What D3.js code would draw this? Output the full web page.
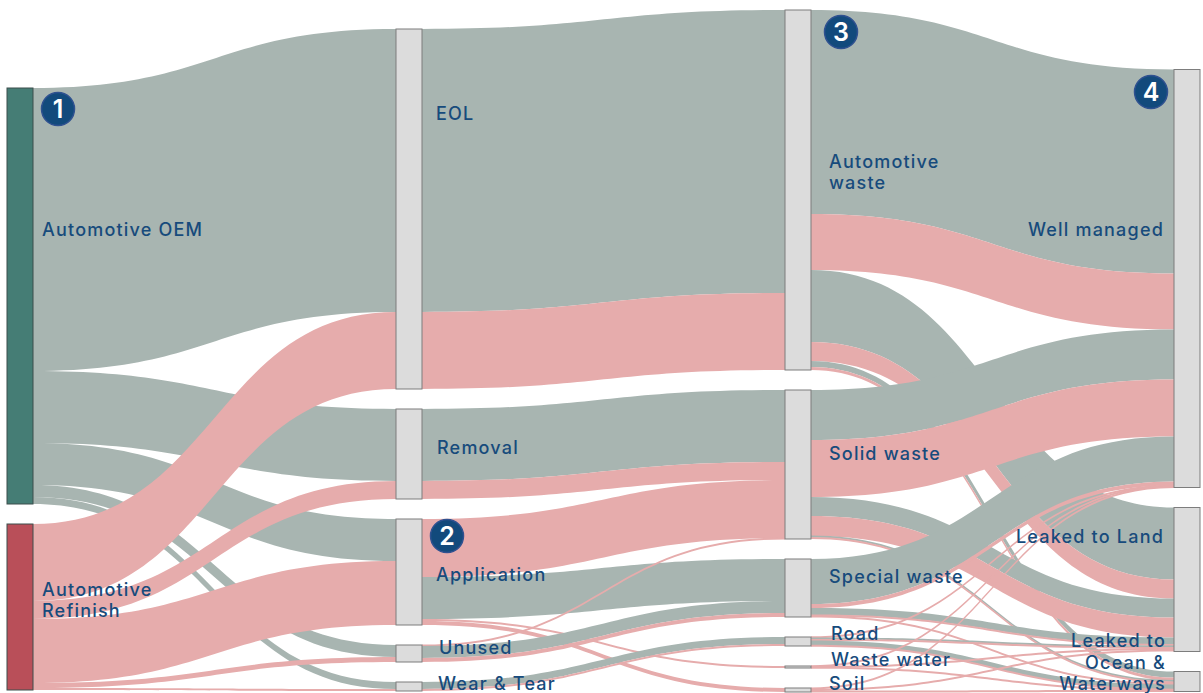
<!DOCTYPE html>
<html>
<head>
<meta charset="utf-8">
<script src="https://cdn.jsdelivr.net/npm/d3@7"></script>
<style>
  html, body { margin: 0; padding: 0; background: #fff; }
  svg { display: block; }
</style>
</head>
<body>
<div id="container"></div>
<script>
let w = 1203;
let h = 693;

// stages, top to bottom
let stage1 = ["Automotive OEM", "Automotive Refinish"];
let stage2 = ["EOL", "Removal", "Application", "Unused", "Wear & Tear"];
let stage3 = ["Automotive waste", "Solid waste", "Special waste", "Road", "Waste water", "Soil"];
let stage4 = ["Well managed", "Leaked to Land", "Leaked to Ocean & Waterways"];
let stages = [stage1, stage2, stage3, stage4];

// [source, target, value, series]
let flows12 = [
  ["Automotive OEM", "EOL", 283, "oem"],
  ["Automotive OEM", "Removal", 72, "oem"],
  ["Automotive OEM", "Application", 42, "oem"],
  ["Automotive OEM", "Unused", 12, "oem"],
  ["Automotive OEM", "Wear & Tear", 7, "oem"],
  ["Automotive Refinish", "EOL", 77, "refinish"],
  ["Automotive Refinish", "Removal", 18, "refinish"],
  ["Automotive Refinish", "Application", 64, "refinish"],
  ["Automotive Refinish", "Unused", 5, "refinish"],
  ["Automotive Refinish", "Wear & Tear", 2, "refinish"]
];
let flows23 = [
  ["EOL", "Automotive waste", 283, "oem"],
  ["EOL", "Automotive waste", 77, "refinish"],
  ["Removal", "Solid waste", 72, "oem"],
  ["Removal", "Solid waste", 18, "refinish"],
  ["Application", "Solid waste", 58, "refinish"],
  ["Application", "Special waste", 42, "oem"],
  ["Application", "Waste water", 2, "refinish"],
  ["Application", "Soil", 4, "refinish"],
  ["Unused", "Solid waste", 1, "refinish"],
  ["Unused", "Special waste", 12, "oem"],
  ["Unused", "Special waste", 4, "refinish"],
  ["Wear & Tear", "Road", 7, "oem"],
  ["Wear & Tear", "Road", 2, "refinish"]
];
let flows34 = [
  ["Automotive waste", "Well managed", 204, "oem"],
  ["Automotive waste", "Well managed", 56, "refinish"],
  ["Automotive waste", "Leaked to Land", 72, "oem"],
  ["Automotive waste", "Leaked to Land", 19, "refinish"],
  ["Automotive waste", "Leaked to Ocean & Waterways", 6, "oem"],
  ["Automotive waste", "Leaked to Ocean & Waterways", 3, "refinish"],
  ["Solid waste", "Well managed", 50, "oem"],
  ["Solid waste", "Well managed", 57, "refinish"],
  ["Solid waste", "Leaked to Land", 19, "oem"],
  ["Solid waste", "Leaked to Land", 20, "refinish"],
  ["Solid waste", "Leaked to Ocean & Waterways", 1, "oem"],
  ["Solid waste", "Leaked to Ocean & Waterways", 2, "refinish"],
  ["Special waste", "Well managed", 45, "oem"],
  ["Special waste", "Well managed", 4, "refinish"],
  ["Special waste", "Leaked to Land", 7, "oem"],
  ["Special waste", "Leaked to Land", 1, "refinish"],
  ["Special waste", "Leaked to Ocean & Waterways", 1, "refinish"],
  ["Road", "Well managed", 0.5, "refinish"],
  ["Road", "Leaked to Land", 2, "oem"],
  ["Road", "Leaked to Land", 1, "refinish"],
  ["Road", "Leaked to Ocean & Waterways", 5, "oem"],
  ["Road", "Leaked to Ocean & Waterways", 0.5, "refinish"],
  ["Waste water", "Well managed", 0.5, "refinish"],
  ["Waste water", "Leaked to Land", 1, "refinish"],
  ["Waste water", "Leaked to Ocean & Waterways", 0.5, "refinish"],
  ["Soil", "Well managed", 1, "refinish"],
  ["Soil", "Leaked to Land", 2, "refinish"],
  ["Soil", "Leaked to Ocean & Waterways", 1, "refinish"]
];
let flows = flows12.concat(flows23, flows34);

// layout only
let nodeGap = 20;
let stageBottoms = [690, 691, 692, 691.5];
let nodeWidth = 26;
let minBand = 2; // hairline flows still need to show
let linkColor = { oem: "#a8b5b1", refinish: "#e6acac" };
let nodeColor = { "Automotive OEM": "#457d75", "Automotive Refinish": "#b94f59" };
let textColor = "#174b7c";

let labels = [
  { lines: ["Automotive OEM"], x: 42, y: 229 },
  { lines: ["Automotive", "Refinish"], x: 42, y: 588.5 },
  { lines: ["EOL"], x: 436, y: 112.5 },
  { lines: ["Removal"], x: 437, y: 447 },
  { lines: ["Application"], x: 436, y: 574 },
  { lines: ["Unused"], x: 439, y: 646.5 },
  { lines: ["Wear & Tear"], x: 438, y: 683 },
  { lines: ["Automotive", "waste"], x: 829, y: 160.5 },
  { lines: ["Solid waste"], x: 829, y: 452.5 },
  { lines: ["Special waste"], x: 829, y: 576 },
  { lines: ["Road"], x: 831, y: 633 },
  { lines: ["Waste water"], x: 831, y: 659 },
  { lines: ["Soil"], x: 829, y: 683 },
  { lines: ["Well managed"], x: 1164, y: 229, anchor: "end" },
  { lines: ["Leaked to Land"], x: 1164, y: 536, anchor: "end" },
  { lines: ["Leaked to", "Ocean &", "Waterways"], x: 1166, y: 640, anchor: "end" }
];
let badges = [
  { n: "1", x: 58, y: 109 },
  { n: "2", x: 447, y: 536 },
  { n: "3", x: 841, y: 32 },
  { n: "4", x: 1151, y: 92 }
];

let viz = d3.select("#container").append("svg")
    .attr("width", w)
    .attr("height", h)
    .style("background-color", "white")
;

// one value unit is one pixel tall, stacks hang up from the stage bottom
let xScale = d3.scalePoint().domain(d3.range(stages.length)).range([7, 1174]);
let yScale = d3.scaleLinear().domain([0, h]).range([0, h]);

let nodes = [];
let nodeByName = {};
stages.forEach(function(names, i){
  let sizes = names.map(function(name){
    let inSum = d3.sum(flows.filter(f=>f[1]==name), f=>f[2]);
    let outSum = d3.sum(flows.filter(f=>f[0]==name), f=>f[2]);
    return Math.max(inSum, outSum);
  });
  let pos = stageBottoms[i] - d3.sum(sizes) - nodeGap*(names.length-1);
  names.forEach(function(name, j){
    let node = { name: name, stage: i, start: pos, size: sizes[j], outNext: pos, inNext: pos };
    nodes.push(node);
    nodeByName[name] = node;
    pos += sizes[j] + nodeGap;
  });
});

// stack the link ends on each node in list order
let links = flows.map(function(f){
  let s = nodeByName[f[0]];
  let t = nodeByName[f[1]];
  let link = { source: s, target: t, value: f[2], series: f[3], y0: s.outNext + f[2]/2, y1: t.inNext + f[2]/2 };
  s.outNext += f[2];
  t.inNext += f[2];
  return link;
});

// band between two bumped edges, keeps its vertical thickness along the way
let bandArea = d3.area()
    .x(d=>d.x)
    .y0(d=>yScale(d.y - d.half))
    .y1(d=>yScale(d.y + d.half))
    .curve(d3.curveBumpX)
;
function linkBand(d){
  let half = Math.max(d.value, minBand)/2;
  return bandArea([
    { x: xScale(d.source.stage)+nodeWidth, y: d.y0, half: half },
    { x: xScale(d.target.stage), y: d.y1, half: half }
  ]);
}

viz.append("g").attr("class", "links").selectAll("path").data(links).enter()
  .append("path")
    .attr("d", linkBand)
    .attr("fill", d=>linkColor[d.series])
;

viz.append("g").attr("class", "nodes").selectAll("rect").data(nodes).enter()
  .append("rect")
    .attr("x", d=>xScale(d.stage))
    .attr("y", d=>yScale(d.start))
    .attr("width", nodeWidth)
    .attr("height", d=>yScale(d.size)-yScale(0))
    .attr("fill", d=>nodeColor[d.name] || "#dcdcdc")
    .attr("stroke", d=>nodeColor[d.name] ? "#3d4f4d" : "#7d7d7d")
    .attr("stroke-width", 1)
;

let labelGroups = viz.append("g").attr("class", "labels").selectAll("text").data(labels).enter()
  .append("text")
    .attr("text-anchor", d=>d.anchor || "start")
    .attr("font-family", "Inter, 'Noto Sans', sans-serif")
    .attr("font-size", 18)
    .attr("font-weight", 500)
    .attr("letter-spacing", 1.2)
    .attr("fill", textColor)
;
labelGroups.selectAll("tspan").data(d=>d.lines.map(t=>({ t: t, x: d.x, y: d.y }))).enter()
  .append("tspan")
    .attr("x", d=>d.x)
    .attr("y", (d,i)=>d.y+i*21.5)
    .attr("dy", "0.4em")
    .text(d=>d.t)
;

let badgeGroups = viz.append("g").attr("class", "badges").selectAll("g").data(badges).enter()
  .append("g")
    .attr("transform", d=>"translate("+d.x+","+d.y+")")
;
badgeGroups.append("circle")
    .attr("r", 16.5)
    .attr("fill", "#124a7c")
    .attr("stroke", "#2f5190")
    .attr("stroke-width", 1.5)
;
badgeGroups.append("text")
    .attr("text-anchor", "middle")
    .attr("dy", "0.36em")
    .attr("font-family", "Inter, 'Noto Sans', sans-serif")
    .attr("font-size", 25)
    .attr("font-weight", 600)
    .attr("fill", "white")
    .text(d=>d.n)
;
</script>
</body>
</html>
